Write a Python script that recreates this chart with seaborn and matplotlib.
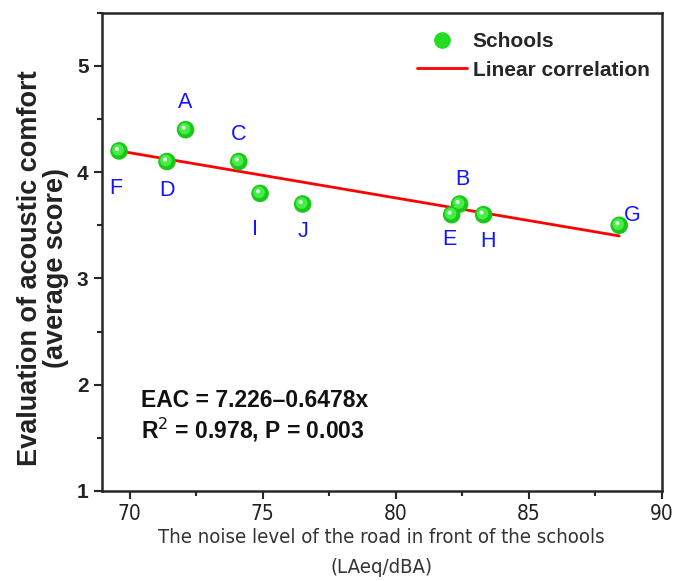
import matplotlib
matplotlib.use("Agg")
import matplotlib.pyplot as plt
import matplotlib.transforms as mtransforms
from matplotlib import font_manager
from matplotlib.lines import Line2D
from matplotlib.ticker import MultipleLocator
import seaborn as sns
import pandas as pd

# School data
schools = ["A", "B", "C", "D", "E", "F", "G", "H", "I", "J"]
noise = [72.1, 82.4, 74.1, 71.4, 82.1, 69.6, 88.4, 83.3, 74.9, 76.5]
score = [4.4, 3.7, 4.1, 4.1, 3.6, 4.2, 3.5, 3.6, 3.8, 3.7]

# linear correlation line end points
fit_x = [69.6, 88.4]
fit_y = [4.2, 3.4]

df = pd.DataFrame({"school": schools, "noise": noise, "score": score})
fit = pd.DataFrame({"noise": fit_x, "score": fit_y})

# pick a narrow font for the x axis if one is around
names = {f.name for f in font_manager.fontManager.ttflist}
narrow = None
for cand in ["Liberation Sans Narrow", "Arial Narrow", "DejaVu Sans Condensed"]:
    if cand in names:
        narrow = cand
        break
if narrow is None:
    cond = [f for f in font_manager.fontManager.ttflist
            if f.name == "DejaVu Sans" and "ondensed" in f.fname]
    narrow_kw = {"family": "DejaVu Sans", "stretch": "condensed"} if cond else {"family": "Liberation Sans"}
else:
    narrow_kw = {"family": narrow}
is_narrow = narrow_kw["family"] != "Liberation Sans"
xtick_size = 15 if is_narrow else 13.5
xlab_size = 14.6 if is_narrow else 12.5

sns.set_style("ticks")
plt.rcParams["font.family"] = ["Liberation Sans", "DejaVu Sans"]

fig = plt.figure(figsize=(6.83, 5.81), dpi=100)
ax = fig.add_axes([0.149, 0.155, 0.820, 0.823])

sns.lineplot(data=fit, x="noise", y="score", color="#ff0000", lw=2, ax=ax, zorder=2)

# green "spheres": base + lighter core + highlight
sns.scatterplot(data=df, x="noise", y="score", s=160, color="#19c819", edgecolor="none", ax=ax, zorder=3)
core = mtransforms.offset_copy(ax.transData, fig=fig, x=-1, y=1, units="dots")
ax.scatter(df["noise"], df["score"], s=70, color="#44ee44", edgecolor="none", transform=core, zorder=4)
hl = mtransforms.offset_copy(ax.transData, fig=fig, x=-2, y=2, units="dots")
ax.scatter(df["noise"], df["score"], s=9, color="#e8ffe8", edgecolor="none", transform=hl, zorder=5)

# label offsets in pixels (x, y)
offsets = {"A": (0, 27), "B": (3, 25), "C": (0, 27), "D": (0, -29), "E": (-2, -25),
           "F": (-3, -38), "G": (13, 10), "H": (4, -27), "I": (-5, -36), "J": (0, -27)}
for s, x, y in zip(schools, noise, score):
    ax.annotate(s, (x, y), xytext=offsets[s], textcoords="offset pixels",
                ha="center", va="center", color="#1414ff", fontsize=15.5)

ax.set_xlim(68.95, 90)
ax.set_ylim(1, 5.5)
ax.xaxis.set_major_locator(MultipleLocator(5))
ax.xaxis.set_minor_locator(MultipleLocator(2.5))
ax.yaxis.set_major_locator(MultipleLocator(1))
ax.yaxis.set_minor_locator(MultipleLocator(0.5))
ax.tick_params(which="major", length=6, width=1.5, direction="out")
ax.tick_params(which="minor", length=3.5, width=1.5, direction="out")
for sp in ax.spines.values():
    sp.set_linewidth(1.8)
    sp.set_visible(True)

for lbl in ax.get_xticklabels():
    lbl.set(**narrow_kw)
    lbl.set_fontsize(xtick_size)
    lbl.set_color("#222222")
for lbl in ax.get_yticklabels():
    lbl.set_fontsize(15)
    lbl.set_fontweight("bold")
    lbl.set_color("#222222")

ax.set_xlabel("The noise level of the road in front of the schools\n(LAeq/dBA)",
              fontsize=xlab_size, color="#333333", linespacing=1.7, labelpad=3, **narrow_kw)
ax.set_ylabel("Evaluation of acoustic comfort\n(average score)", fontsize=19.5,
              fontweight="bold", color="#222222", linespacing=1.0)
ax.yaxis.set_label_coords(-0.058, 0.467)

ax.text(0.07, 0.19, "EAC = 7.226\u20130.6478x", transform=ax.transAxes,
        fontsize=16.5, fontweight="bold", color="#111111", va="center")
ax.text(0.07, 0.128, "R$^2$ = 0.978, P = 0.003", transform=ax.transAxes,
        fontsize=16.5, fontweight="bold", color="#111111", va="center")

handles = [
    Line2D([], [], marker="o", ls="none", markersize=12, markerfacecolor="#22dd22",
           markeredgecolor="none"),
    Line2D([], [], color="#ff0000", lw=2),
]
leg = ax.legend(handles, ["Schools", "Linear correlation"], loc="upper right",
                bbox_to_anchor=(1.004, 0.99), frameon=False,
                prop={"weight": "bold", "size": 15},
                handlelength=2.4, handletextpad=0.25, borderaxespad=0.3, labelspacing=0.45)

fig.savefig("out.png", dpi=100)
